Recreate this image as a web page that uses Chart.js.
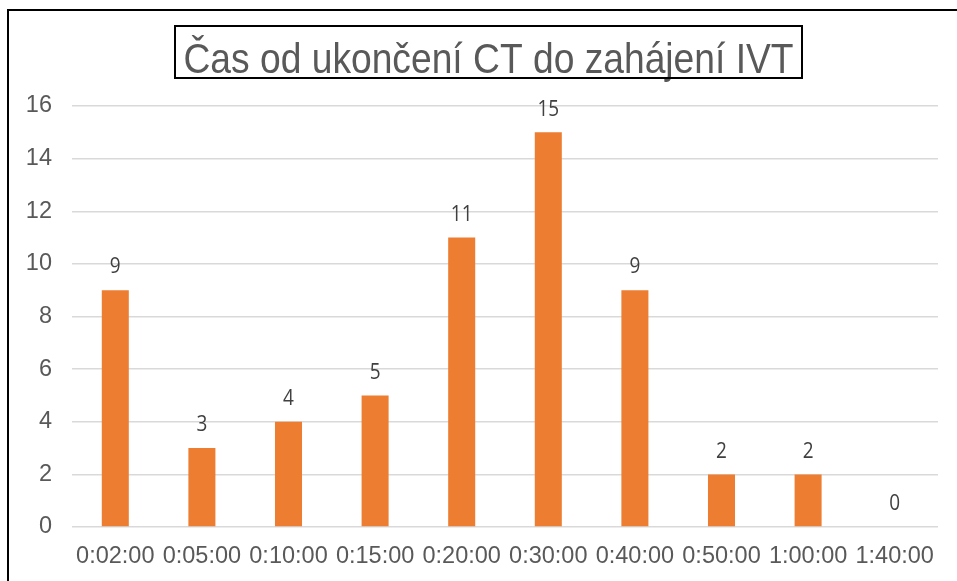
<!DOCTYPE html>
<html>
<head>
<meta charset="utf-8">
<script src="https://cdn.jsdelivr.net/npm/chart.js@4/dist/chart.umd.min.js"></script>
<style>
  html, body { margin: 0; padding: 0; background: #fff; }
  #wrap { width: 957px; height: 581px; position: relative; }
</style>
</head>
<body>
<div id="wrap"><canvas id="c" width="957" height="581"></canvas></div>
<script>
const categories = ['0:02:00', '0:05:00', '0:10:00', '0:15:00', '0:20:00', '0:30:00', '0:40:00', '0:50:00', '1:00:00', '1:40:00'];
const counts = [9, 3, 4, 5, 11, 15, 9, 2, 2, 0];
const yTicks = [0, 2, 4, 6, 8, 10, 12, 14, 16];
const titleText = 'Čas od ukončení CT do zahájení IVT';

const frameAndTitle = {
  id: 'frameAndTitle',
  beforeDraw(chart) {
    const ctx = chart.ctx;
    ctx.save();
    ctx.fillStyle = '#ffffff';
    ctx.fillRect(0, 0, chart.width, chart.height);
    ctx.restore();
  },
  afterDraw(chart) {
    const ctx = chart.ctx;
    ctx.save();
    // outer frame
    ctx.strokeStyle = '#000000';
    ctx.lineWidth = 2;
    ctx.strokeRect(8, 10, chart.width + 20, chart.height + 20);
    // title
    const cx = 488.5;
    ctx.font = '43px "Liberation Sans", Arial, sans-serif';
    const w = ctx.measureText(titleText).width;
    const targetW = 610;
    const sx = targetW / w;
    ctx.fillStyle = '#595959';
    ctx.textAlign = 'center';
    ctx.textBaseline = 'alphabetic';
    ctx.translate(cx, 73);
    ctx.scale(sx, 1);
    ctx.fillText(titleText, 0, 0);
    ctx.setTransform(1, 0, 0, 1, 0, 0);
    ctx.strokeRect(cx - 313.5, 26, 627, 52);
    ctx.restore();
  }
};

const dataLabels = {
  id: 'dataLabels',
  afterDatasetsDraw(chart) {
    const ctx = chart.ctx;
    const meta = chart.getDatasetMeta(0);
    const ys = chart.scales.y;
    ctx.save();
    ctx.fillStyle = '#404040';
    ctx.textAlign = 'center';
    ctx.textBaseline = 'middle';
    ctx.font = '19px "Open Sans", sans-serif';
    meta.data.forEach((bar, i) => {
      const v = counts[i];
      const y = ys.getPixelForValue(v) - 23;
      ctx.save();
      ctx.translate(bar.x, y);
      ctx.scale(1, 1.15);
      ctx.fillText(String(v), 0, 0);
      ctx.restore();
    });
    ctx.restore();
  }
};

new Chart(document.getElementById('c'), {
  type: 'bar',
  data: {
    labels: categories,
    datasets: [{
      data: counts,
      backgroundColor: '#ED7D31',
      borderWidth: 0,
      barPercentage: 0.312,
      categoryPercentage: 1.0
    }]
  },
  options: {
    responsive: false,
    animation: false,
    devicePixelRatio: 1,
    layout: { padding: { top: 106, left: 0, right: 19, bottom: 0 } },
    plugins: {
      legend: { display: false },
      title: { display: false },
      tooltip: { enabled: false }
    },
    scales: {
      x: {
        offset: true,
        grid: { display: false, drawTicks: false },
        border: { display: false },
        ticks: {
          color: '#595959',
          font: { family: '"Liberation Sans", Arial, sans-serif', size: 23.5 },
          padding: 15,
          maxRotation: 0,
          autoSkip: false
        },
        afterFit(scale) { scale.height = 54; }
      },
      y: {
        min: 0,
        max: 16,
        afterBuildTicks(scale) { scale.ticks = yTicks.map(v => ({ value: v })); },
        grid: { color: '#D9D9D9', lineWidth: 1.5, drawTicks: false },
        border: { display: false },
        ticks: {
          color: '#595959',
          font: { family: '"Liberation Sans", Arial, sans-serif', size: 23.5 },
          padding: 20
        },
        afterFit(scale) { scale.width = 72; }
      }
    }
  },
  plugins: [frameAndTitle, dataLabels]
});
</script>
</body>
</html>
